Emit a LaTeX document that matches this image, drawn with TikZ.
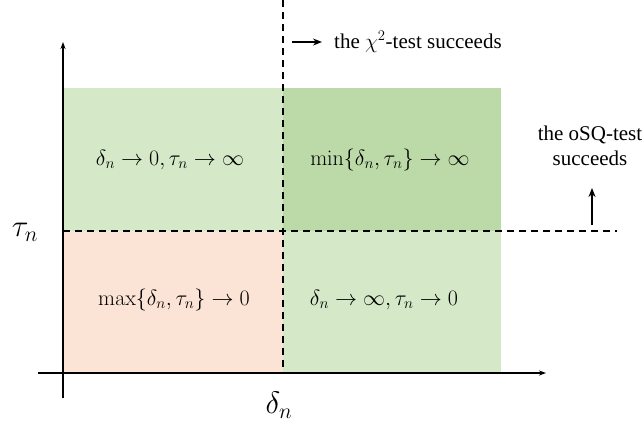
\RequirePackage{fix-cm}
\documentclass[tikz,border=0pt]{standalone}
\usepackage[no-math]{fontspec}
\setmainfont{Liberation Serif}
\usetikzlibrary{arrows.meta}
\definecolor{lgreen}{RGB}{213,232,200}
\definecolor{dgreen}{RGB}{188,218,168}
\definecolor{salmon}{RGB}{251,227,214}
\tikzset{
  dash line/.style={dash pattern=on 7pt off 5pt, line width=1.5pt},
  axis/.style={line width=1.5pt},
  mathlbl/.style={font=\fontsize{22}{26}\selectfont},
  biglbl/.style={font=\fontsize{31}{34}\selectfont},
  txt/.style={font=\fontsize{21}{25}\selectfont, align=center},
  arr/.style={-{Stealth[length=9pt,width=7pt]}, line width=1.5pt}
}
\begin{document}
\begin{tikzpicture}[x=1pt,y=-1pt]
\useasboundingbox (0,0) rectangle (644,424);
% regions
\fill[lgreen] (63,88) rectangle (283,231);
\fill[dgreen] (283,88) rectangle (501,231);
\fill[salmon] (63,231) rectangle (283,373);
\fill[lgreen] (283,231) rectangle (501,373);
% coordinates
\coordinate (vtop) at (283,0);
\coordinate (vbot) at (283,373);
\coordinate (hleft) at (63,231);
\coordinate (hright) at (617,231);
\coordinate (xs) at (38,373);
\coordinate (xe) at (546,373);
\coordinate (ys) at (63,398);
\coordinate (ye) at (63,42);
% dashed lines
\draw[dash line] (vtop) -- (vbot);
\draw[dash line] (hleft) -- (hright);
% axes
\draw[axis,-{Stealth[length=7pt,width=5pt]}] (xs) -- (xe);
\draw[axis,-{Stealth[length=7pt,width=5pt]}] (ys) -- (ye);
% labels
\node[mathlbl] (tl) at (170,160) {$\delta_n\to 0,\tau_n\to\infty$};
\node[mathlbl] (tr) at (390,160) {$\min\{\delta_n,\tau_n\}\to\infty$};
\node[mathlbl] (bl) at (174,300) {$\max\{\delta_n,\tau_n\}\to 0$};
\node[mathlbl] (br) at (384,300) {$\delta_n\to\infty,\tau_n\to 0$};
\node[biglbl] (tau) at (25,232) {$\tau_n$};
\node[biglbl] (delta) at (279,405) {$\delta_n$};
% chi test
\coordinate (ca) at (292,42);
\node[txt, anchor=west, inner sep=0pt] (chi) at (334,42) {the $\chi^2$-test succeeds};
\draw[arr] (ca) -- ([xshift=-12pt]chi.west);
% oSQ test
\node[txt, inner sep=0pt] (osq) at (590,146) {the oSQ-test\\succeeds};
\coordinate (oa) at (592,225);
\coordinate (ob) at (592,188);
\draw[arr] (oa) -- (ob);
\end{tikzpicture}
\end{document}
